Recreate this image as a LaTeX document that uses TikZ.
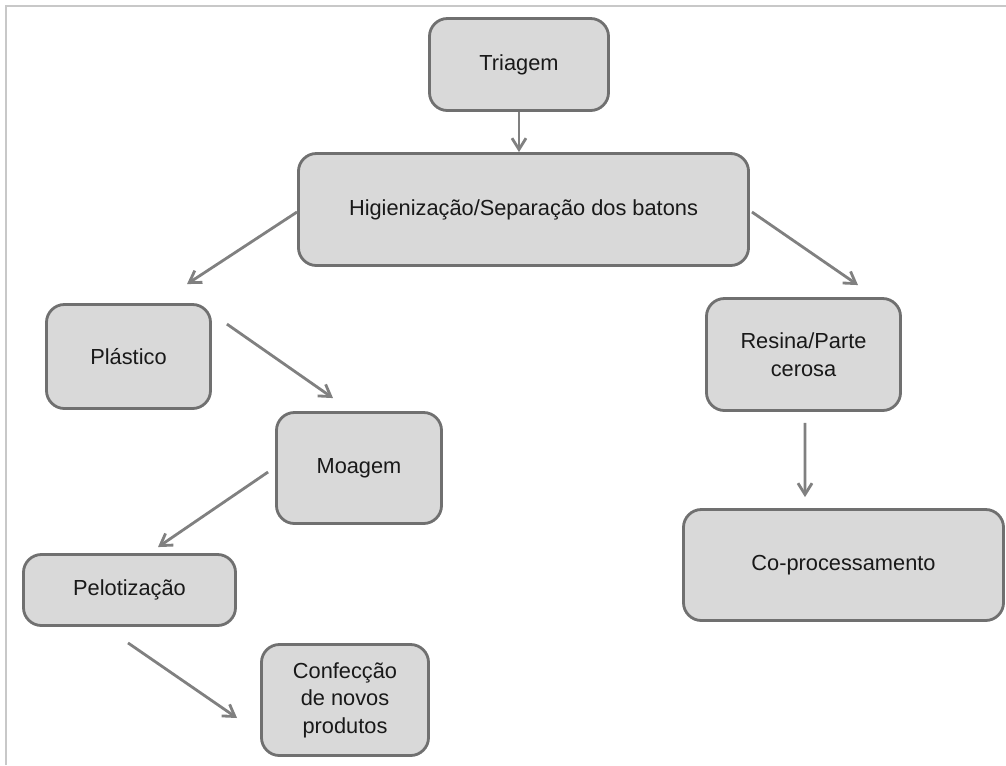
\documentclass[tikz,border=0pt]{standalone}
\usepackage{fontspec}
\setmainfont{Liberation Sans}
\usetikzlibrary{arrows.meta,calc}
\definecolor{BoxFill}{RGB}{217,217,217}
\definecolor{BoxLine}{RGB}{112,112,112}
\definecolor{ArrowGray}{RGB}{128,128,128}
\definecolor{FrameGray}{RGB}{200,200,200}
\definecolor{TextBlack}{RGB}{25,25,25}

\begin{document}
\begin{tikzpicture}[x=0.025cm,y=-0.025cm,
    every node/.style={font=\fontsize{15.5}{19.5}\selectfont},
    procbox/.style={draw=BoxLine,fill=BoxFill,line width=2pt,rounded corners=0.45cm,
                    align=center,text=TextBlack},
    flowarrow/.style={-{Straight Barb[length=8pt,width=10pt]},line width=2pt,ArrowGray}]
        \useasboundingbox (0,0) rectangle (1006,765);
        \draw[FrameGray,line width=1.5pt] (6,765) -- (6,6) -- (1006,6);

        \node[procbox,minimum width=4.475cm,minimum height=2.3cm] (triag) at (519,64.5) {Triagem};
        \node[procbox,minimum width=11.25cm,minimum height=2.8cm] (hig) at (523.5,209.5) {Higienização/Separação dos batons};
        \node[procbox,minimum width=4.1cm,minimum height=2.6cm] (plas) at (128.5,356.5) {Plástico};
        \node[procbox,minimum width=4.125cm,minimum height=2.775cm] (moag) at (359,468) {Moagem};
        \node[procbox,minimum width=5.3cm,minimum height=1.775cm] (pelot) at (129.5,590) {Pelotização};
        \node[procbox,minimum width=4.175cm,minimum height=2.775cm] (confec) at (345,700) {Confecção\\de novos\\produtos};
        \node[procbox,minimum width=4.85cm,minimum height=2.8cm] (resina) at (803.5,354.5) {Resina/Parte\\cerosa};
        \node[procbox,minimum width=8cm,minimum height=2.775cm] (coproc) at (843.5,565) {Co-processamento};

        \draw[flowarrow] (triag.south) -- (triag.south |- hig.north);
        \draw[flowarrow] ($(hig.west)+(0,2.5)$) -- ($(plas.north)+(58.5,-19)$);
        \draw[flowarrow] ($(hig.east)+(2,2.5)$) -- ($(resina.north)+(54.5,-12)$);
        \draw[flowarrow] ($(plas.north east)+(15,21)$) -- ($(moag.north)+(-26,-13)$);
        \draw[flowarrow] ($(moag.west)+(-7,4)$) -- ($(pelot.north)+(28.5,-6)$);
        \draw[flowarrow] ($(pelot.south)+(-1.5,16)$) -- ($(confec.west)+(-23,18)$);
        \draw[flowarrow] ($(resina.south)+(1.5,11)$) -- ($(coproc.north)+(-38.5,-11)$);
      \end{tikzpicture}
\end{document}
